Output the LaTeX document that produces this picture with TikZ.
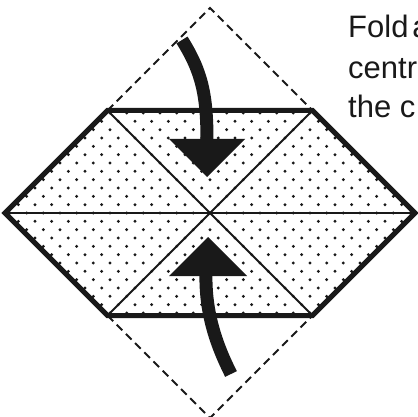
\documentclass[tikz,border=0pt]{standalone}
\usepackage{fontspec}
\setmainfont{Liberation Sans}
\begin{document}
\begin{tikzpicture}[x=1pt,y=-1pt,
  outline/.style={line width=5pt, line join=miter, draw=black!90},
  crease/.style={line width=1.8pt, draw=black!90},
  foldline/.style={line width=1.8pt, draw=black!90, dash pattern=on 8pt off 5pt},
  stem/.style={line width=13pt, draw=black!90},
  head/.style={fill=black!90},
  label/.style={anchor=base west, inner sep=0pt, font=\fontsize{31}{36}\selectfont, text=black!90}]
\useasboundingbox (0,0) rectangle (418,417);
% key points
\coordinate (C) at (210,213);
\coordinate (L) at (5,213);
\coordinate (R) at (415,213);
\coordinate (TL) at (107.5,110.5);
\coordinate (TR) at (312.5,110.5);
\coordinate (BL) at (107.5,315.5);
\coordinate (BR) at (312.5,315.5);
\coordinate (T) at (210,8);
\coordinate (B) at (210,418);
% dotted fill
\begin{scope}
  \clip (L) -- (TL) -- (TR) -- (R) -- (BR) -- (BL) -- cycle;
  \foreach \i in {-25,...,25}{
    \foreach \j in {-13,...,13}{
      \pgfmathtruncatemacro\dotpar{mod(abs(\i+\j),2)}
      \ifnum\dotpar=0
        \fill[black!90] (210+8.333*\i,213+8.333*\j) circle (1.6pt);
      \fi
    }
  }
\end{scope}
% dashed original corners
\draw[foldline] (TL) -- (T) -- (TR);
\draw[foldline] (BL) -- (B) -- (BR);
% creases
\draw[crease] (L) -- (R);
\draw[crease] (TL) -- (BR);
\draw[crease] (TR) -- (BL);
% outline
\draw[outline] (L) -- (TL) -- (TR) -- (R) -- (BR) -- (BL) -- cycle;
% top arrow
\coordinate (a1s) at (182,40);
\coordinate (a1e) at (207,141);
\draw[stem] (a1s) .. controls (202,72) and (207,95) .. (a1e);
\coordinate (h1a) at (169,139);
\coordinate (h1b) at (245,139);
\coordinate (h1t) at (207,177);
\fill[head] (h1a) -- (h1b) -- (h1t) -- cycle;
% bottom arrow
\coordinate (a2s) at (206,274);
\coordinate (a2e) at (231,374);
\draw[stem] (a2s) .. controls (205,318) and (220,352) .. (a2e);
\coordinate (h2a) at (169,276);
\coordinate (h2b) at (247,276);
\coordinate (h2t) at (208,237);
\fill[head] (h2a) -- (h2b) -- (h2t) -- cycle;
% text
\node[label] (t1) at (348,38) {Fold\hspace{4pt}a};
\node[label] (t2) at (348,78.5) {centr};
\node[label] (t3) at (348,118) {the c};
\end{tikzpicture}
\end{document}
